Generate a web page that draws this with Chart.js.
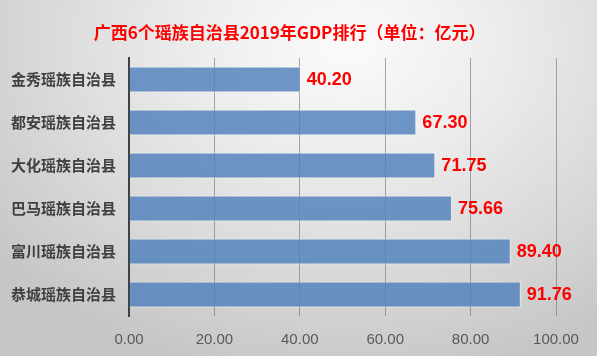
<!DOCTYPE html>
<html>
<head>
<meta charset="utf-8">
<script src="https://cdn.jsdelivr.net/npm/chart.js@4"></script>
<style>
html,body{margin:0;padding:0;}
body{width:597px;height:356px;overflow:hidden;
background:radial-gradient(ellipse 75% 95% at 58% 12%, #fbfbfb 0%, #ececec 35%, #d8d8d8 70%, #c6c6c6 100%);}
#wrap{position:relative;width:597px;height:356px;}
</style>
</head>
<body>
<div id="wrap"><canvas id="c" width="597" height="356"></canvas></div>
<script>
const titleText = '广西6个瑶族自治县2019年GDP排行（单位：亿元）';
const categories = ['金秀瑶族自治县','都安瑶族自治县','大化瑶族自治县','巴马瑶族自治县','富川瑶族自治县','恭城瑶族自治县'];
const gdpValues = [40.20, 67.30, 71.75, 75.66, 89.40, 91.76];
const xMax = 100;
const xStep = 20;

const titlePlugin = {
  id: 'customTitle',
  afterDraw(chart) {
    const ctx = chart.ctx;
    ctx.save();
    ctx.font = 'bold 17px "Noto Sans CJK SC", sans-serif';
    ctx.fillStyle = '#ff0000';
    ctx.textAlign = 'center';
    ctx.textBaseline = 'middle';
    ctx.fillText(titleText, chart.width * 0.485, 33);
    ctx.restore();
  }
};

const labelPlugin = {
  id: 'valueLabels',
  afterDatasetsDraw(chart) {
    const ctx = chart.ctx;
    const meta = chart.getDatasetMeta(0);
    ctx.save();
    ctx.font = 'bold 18px "Liberation Sans", Arial, sans-serif';
    ctx.fillStyle = '#ff0000';
    ctx.textAlign = 'left';
    ctx.textBaseline = 'middle';
    meta.data.forEach((bar, i) => {
      ctx.fillText(gdpValues[i].toFixed(2), bar.x + 6, bar.y + 1);
    });
    ctx.restore();
  }
};

new Chart(document.getElementById('c'), {
  type: 'bar',
  data: {
    labels: categories,
    datasets: [{
      data: gdpValues,
      backgroundColor: 'rgba(79,129,189,0.82)',
      borderColor: 'rgba(255,255,255,0.55)',
      borderWidth: 1,
      barPercentage: 0.6,
      categoryPercentage: 1.0
    }]
  },
  options: {
    indexAxis: 'y',
    responsive: false,
    animation: false,
    events: [],
    layout: { padding: { top: 58, right: 41, left: 0, bottom: 0 } },
    plugins: { legend: { display: false }, title: { display: false }, tooltip: { enabled: false } },
    scales: {
      x: {
        min: 0, max: xMax,
        border: { display: false },
        grid: { color: 'rgba(120,120,120,0.65)', lineWidth: 1, drawTicks: false },
        ticks: {
          stepSize: xStep,
          padding: 15,
          color: '#595959',
          font: { family: '"Liberation Sans", Arial, sans-serif', size: 15 },
          callback: v => Number(v).toFixed(2)
        },
        afterFit(scale) { scale.height = 40; }
      },
      y: {
        border: { display: true, color: '#404040', width: 2 },
        grid: { display: false, drawTicks: false },
        ticks: {
          padding: 13,
          color: '#404040',
          font: { family: '"Noto Sans CJK SC", sans-serif', size: 15, weight: 'bold' }
        },
        afterFit(scale) { scale.width = 129; }
      }
    }
  },
  plugins: [titlePlugin, labelPlugin]
});
</script>
</body>
</html>
